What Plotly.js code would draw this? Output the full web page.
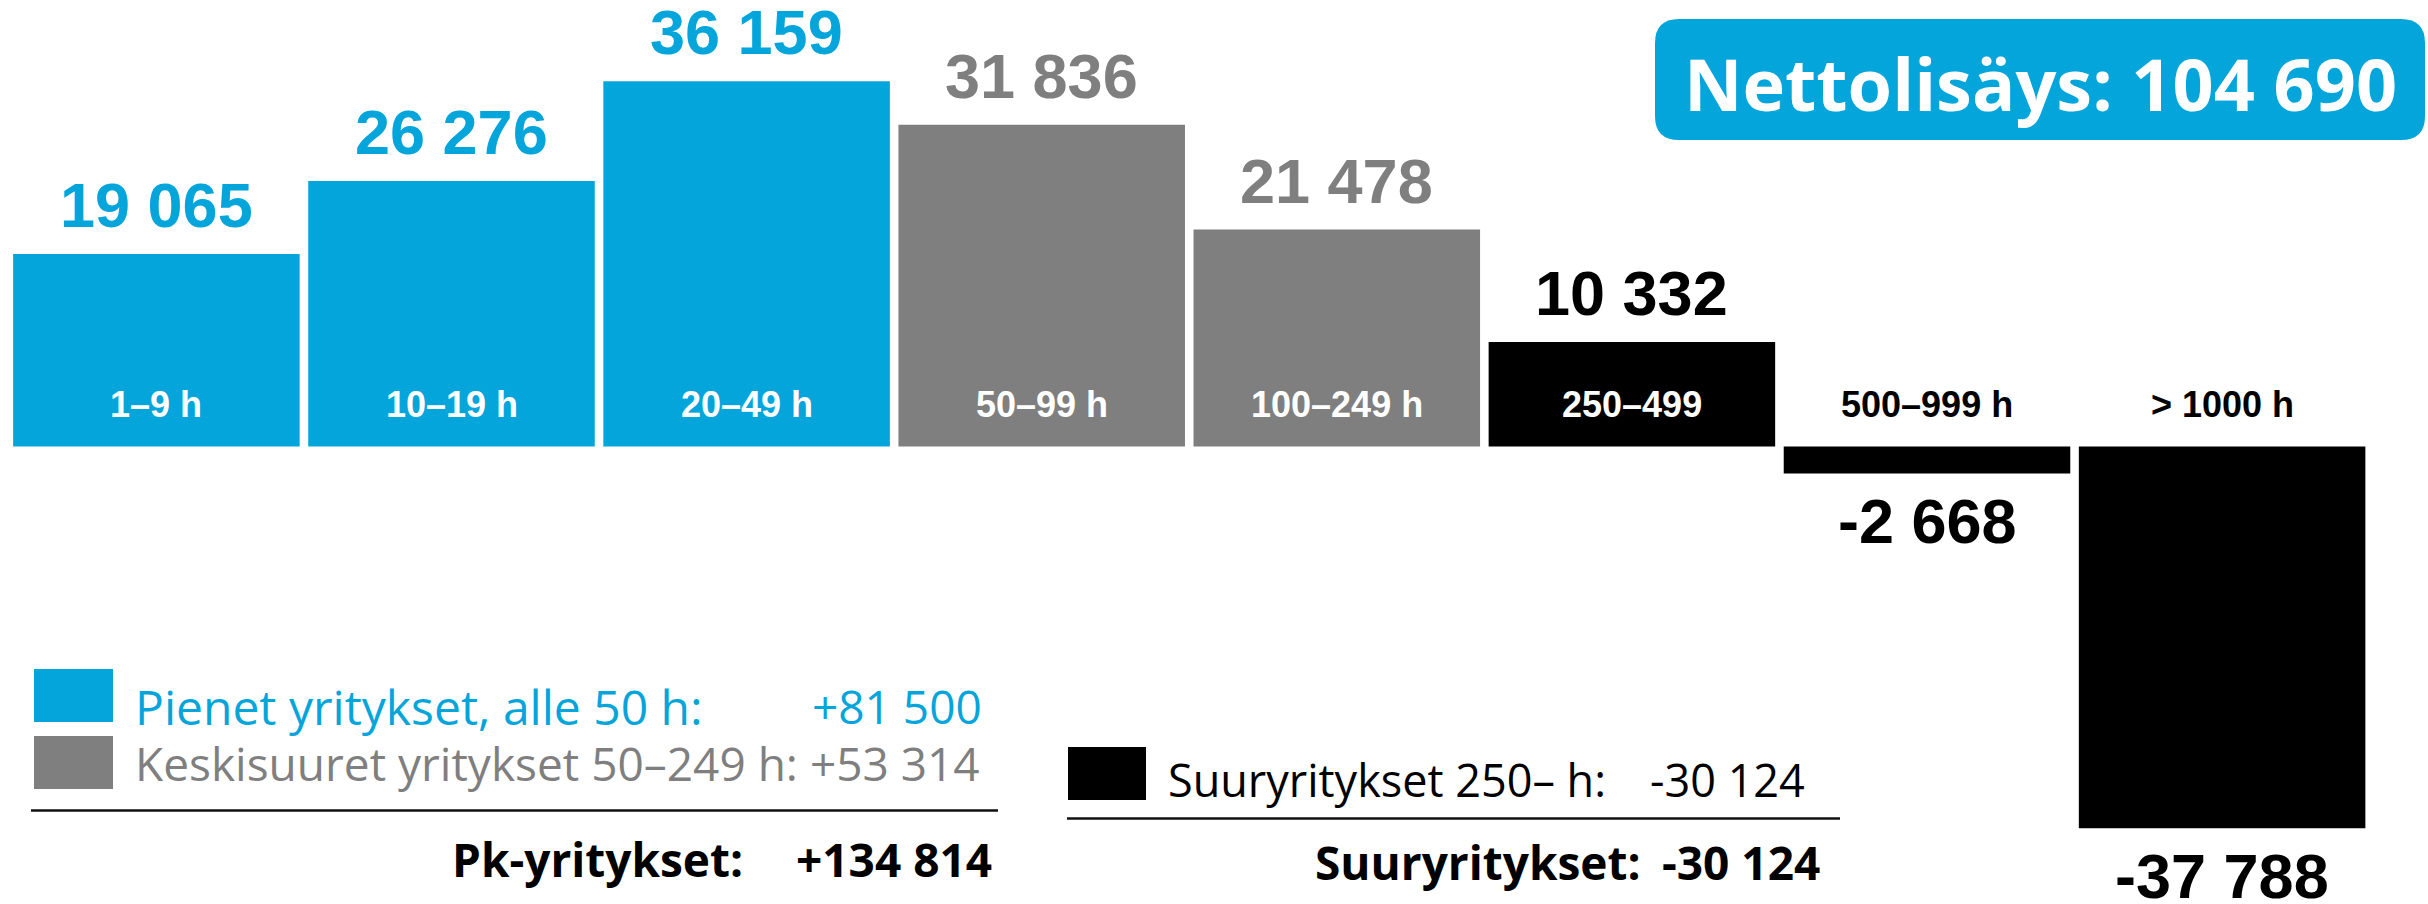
<!DOCTYPE html>
<html>
<head>
<meta charset="utf-8">
<script src="https://cdn.plot.ly/plotly-3.0.1.min.js"></script>
<style>html,body{margin:0;padding:0;background:#fff;}#chart{width:2428px;height:904px;}</style>
</head>
<body>
<div id="chart"></div>
<script>
// ---- data ----
const categories = ['1–9 h', '10–19 h', '20–49 h', '50–99 h', '100–249 h', '250–499', '500–999 h', '> 1000 h'];
const values = [19065, 26276, 36159, 31836, 21478, 10332, -2668, -37788];
const groups = ['pienet', 'pienet', 'pienet', 'keski', 'keski', 'suuri', 'suuri', 'suuri'];
const legendLabels = ['Pienet yritykset, alle 50 h:', 'Keskisuuret yritykset 50–249 h:', 'Suuryritykset 250– h:'];
const legendValues = ['+81 500', '+53 314', '-30 124'];
const totalLabels = ['Pk-yritykset:', 'Suuryritykset:'];
const totalValues = ['+134 814', '-30 124'];
const netLabel = 'Nettolisäys:';
const netValue = '104 690';

// ---- styles ----
const W = 2428, H = 904;
const BLUE = '#04A5DB', GRAY = '#7F7F7F', BLACK = '#000000';
const groupColor = {pienet: BLUE, keski: GRAY, suuri: BLACK};
const catTextColor = ['#fff', '#fff', '#fff', '#fff', '#fff', '#fff', '#000', '#000'];
const px = x => x / W;
const py = y => 1 - y / H;
const fmt = v => (v < 0 ? '-' : '') + String(Math.abs(v)).replace(/\B(?=(\d{3})+(?!\d))/g, ' ');
const xIdx = categories.map((c, i) => i);
const barColors = groups.map(g => groupColor[g]);

const trace = {
  type: 'bar', x: xIdx, y: values,
  marker: {color: barColors, line: {width: 0}},
  hoverinfo: 'skip', showlegend: false
};

const annotations = [];
const NUMFONT = 'Liberation Sans, Arial, sans-serif';
const TXTFONT = 'Open Sans, sans-serif';
values.forEach((v, i) => {
  annotations.push({
    x: i, y: v, xref: 'x', yref: 'y', showarrow: false, borderpad: 0,
    text: fmt(v), xanchor: 'center', yanchor: 'middle',
    yshift: v >= 0 ? 49 : -48,
    font: {family: NUMFONT, size: 63, color: barColors[i], weight: 700}
  });
  annotations.push({
    x: i, y: 0, xref: 'x', yref: 'y', showarrow: false, borderpad: 0,
    text: categories[i], xanchor: 'center', yanchor: 'middle', yshift: 42,
    font: {family: NUMFONT, size: 36, color: catTextColor[i], weight: 700}
  });
});

function txt(text, x, y, anchor, size, color, weight) {
  annotations.push({
    x: px(x), y: py(y), xref: 'paper', yref: 'paper', showarrow: false, borderpad: 0,
    text: text, xanchor: anchor, yanchor: 'middle',
    font: {family: TXTFONT, size: size, color: color, weight: weight || 400}
  });
}
// legend texts
txt(legendLabels[0], 134, 706, 'left', 48, BLUE);
txt(legendValues[0], 983, 706, 'right', 46, BLUE);
txt(legendLabels[1] + ' ' + legendValues[1], 134, 763, 'left', 46, GRAY);
txt(legendLabels[2], 1167, 779, 'left', 45, BLACK);
txt(legendValues[2], 1806, 779, 'right', 45, BLACK);
txt(totalLabels[0], 451, 859, 'left', 46, BLACK, 700);
txt(totalValues[0], 993, 859, 'right', 46, BLACK, 700);
txt(totalLabels[1], 1314, 862, 'left', 46, BLACK, 700);
txt(totalValues[1], 1821, 862, 'right', 46, BLACK, 700);
// net box text
annotations.push({
  x: px(2040), y: py(83), xref: 'paper', yref: 'paper', showarrow: false, borderpad: 0,
  text: netLabel + ' ' + netValue, xanchor: 'center', yanchor: 'middle',
  font: {family: TXTFONT, size: 72, color: '#fff', weight: 700}
});

function rect(x0, y0, x1, y1, color) {
  return {type: 'rect', xref: 'paper', yref: 'paper', x0: px(x0), x1: px(x1), y0: py(y1), y1: py(y0),
          fillcolor: color, line: {width: 0}, layer: 'above'};
}
function roundRect(x0, y0, x1, y1, r, color) {
  const X = v => px(v), Y = v => py(v);
  const p = `M ${X(x0 + r)} ${Y(y0)} L ${X(x1 - r)} ${Y(y0)} Q ${X(x1)} ${Y(y0)} ${X(x1)} ${Y(y0 + r)} ` +
            `L ${X(x1)} ${Y(y1 - r)} Q ${X(x1)} ${Y(y1)} ${X(x1 - r)} ${Y(y1)} ` +
            `L ${X(x0 + r)} ${Y(y1)} Q ${X(x0)} ${Y(y1)} ${X(x0)} ${Y(y1 - r)} ` +
            `L ${X(x0)} ${Y(y0 + r)} Q ${X(x0)} ${Y(y0)} ${X(x0 + r)} ${Y(y0)} Z`;
  return {type: 'path', xref: 'paper', yref: 'paper', path: p, fillcolor: color, line: {width: 0}, layer: 'below'};
}
const shapes = [
  rect(34, 669, 113, 722, BLUE),
  rect(34, 736, 113, 789, GRAY),
  rect(1068, 747, 1146, 800, BLACK),
  {type: 'line', xref: 'paper', yref: 'paper', x0: px(31), x1: px(998), y0: py(810.5), y1: py(810.5), line: {color: '#111', width: 2.5}},
  {type: 'line', xref: 'paper', yref: 'paper', x0: px(1067), x1: px(1840), y0: py(818.5), y1: py(818.5), line: {color: '#111', width: 2.5}},
  roundRect(1655, 19, 2425, 140, 24, BLUE)
];

// y scale: baseline at 446.5 px, ~98.98 units per px
const unitsPerPx = 98.98;
const yMax = 446.5 * unitsPerPx;
const yMin = yMax - H * unitsPerPx;
const step = 295.1;
const xMin = -156.4 / step;
const xMax = xMin + W / step;

const layout = {
  width: W, height: H,
  margin: {l: 0, r: 0, t: 0, b: 0, pad: 0},
  paper_bgcolor: '#fff', plot_bgcolor: '#fff',
  bargap: 0.029,
  xaxis: {range: [xMin, xMax], visible: false, fixedrange: true},
  yaxis: {range: [yMin, yMax], visible: false, fixedrange: true, zeroline: false},
  showlegend: false,
  annotations: annotations,
  shapes: shapes
};
Plotly.newPlot('chart', [trace], layout, {staticPlot: true, displayModeBar: false});
</script>
</body>
</html>
